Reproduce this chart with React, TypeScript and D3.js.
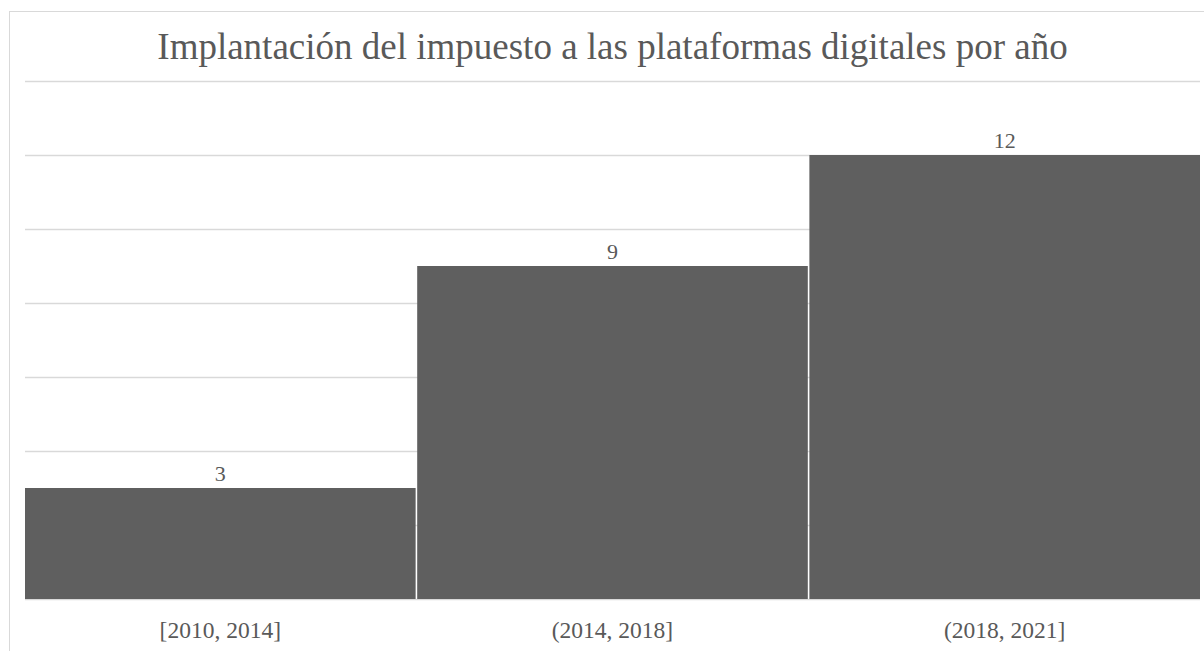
import React from "react";
import * as d3 from "d3";

const categories = ["[2010, 2014]", "(2014, 2018]", "(2018, 2021]"];
const values = [3, 9, 12];
const yTicks = [0, 2, 4, 6, 8, 10, 12, 14];
const title = "Implantación del impuesto a las plataformas digitales por año";

export default function App() {
  const W = 1204, H = 651;
  const left = 25, right = 1200, top = 81, bottom = 599;
  const x = d3.scaleBand<string>().domain(categories).range([left, right]).paddingInner(0.004).paddingOuter(0);
  const y = d3.scaleLinear().domain([0, 14]).range([bottom, top]);
  const font = "'Liberation Serif', 'Times New Roman', serif";
  return (
    <svg width={W} height={H} style={{ position: "absolute", left: 0, top: 0, background: "#fff" }}>
      <rect x={9.5} y={11.5} width={W} height={H} fill="#fff" stroke="#d9d9d9" strokeWidth={1} />
      {yTicks.map((t) => (
        <line key={t} x1={left} x2={right} y1={Math.round(y(t)) + 0.5} y2={Math.round(y(t)) + 0.5} stroke="#d9d9d9" strokeWidth={1.5} />
      ))}
      <text x={(left + right) / 2} y={59} textAnchor="middle" fontFamily={font} fontSize={37} fill="#595959">{title}</text>
      {categories.map((c, i) => (
        <g key={c}>
          <rect x={x(c)} y={y(values[i])} width={x.bandwidth()} height={bottom - y(values[i])} fill="#5f5f5f" />
          <text x={(x(c) as number) + x.bandwidth() / 2} y={y(values[i]) - 7} textAnchor="middle" fontFamily={font} fontSize={22} fill="#595959">{values[i]}</text>
          <text x={(x(c) as number) + x.bandwidth() / 2} y={638} textAnchor="middle" fontFamily={font} fontSize={23.5} fill="#595959">{c}</text>
        </g>
      ))}
    </svg>
  );
}
